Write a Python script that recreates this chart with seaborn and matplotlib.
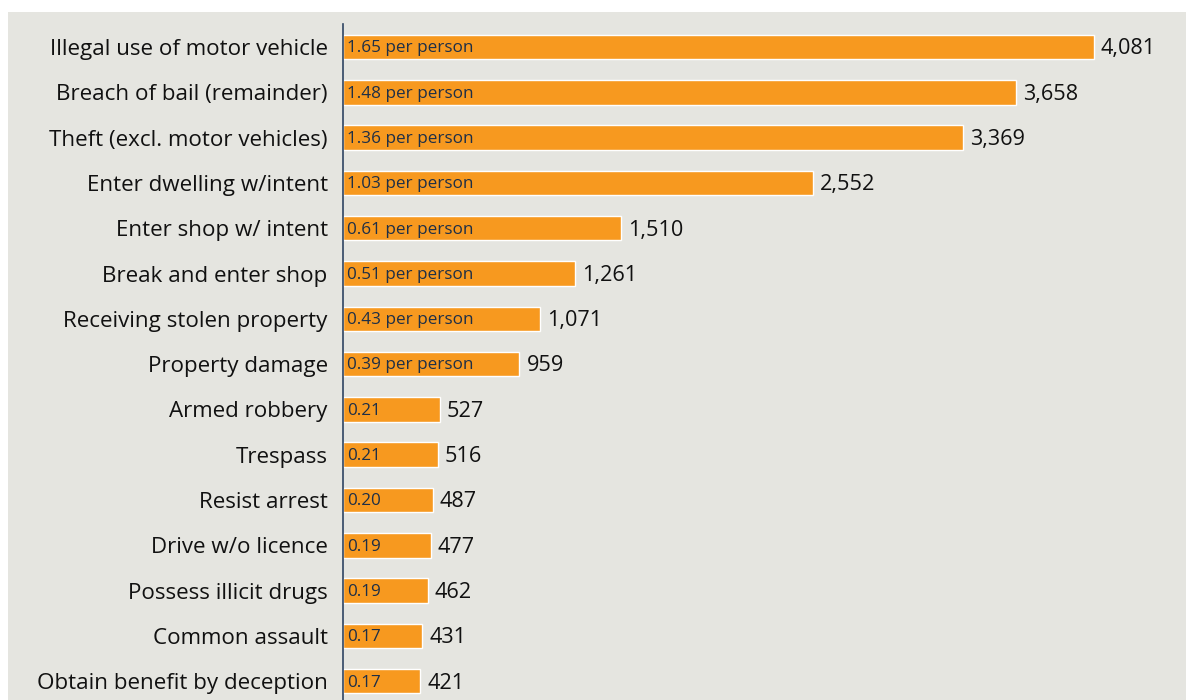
import matplotlib
matplotlib.use("Agg")
import matplotlib.pyplot as plt
import seaborn as sns
import pandas as pd
from matplotlib.patches import Rectangle

# Offence counts and rate per person
offences = [
    "Illegal use of motor vehicle",
    "Breach of bail (remainder)",
    "Theft (excl. motor vehicles)",
    "Enter dwelling w/intent",
    "Enter shop w/ intent",
    "Break and enter shop",
    "Receiving stolen property",
    "Property damage",
    "Armed robbery",
    "Trespass",
    "Resist arrest",
    "Drive w/o licence",
    "Possess illicit drugs",
    "Common assault",
    "Obtain benefit by deception",
]
counts = [4081, 3658, 3369, 2552, 1510, 1261, 1071, 959, 527, 516, 487, 477, 462, 431, 421]
per_person = [1.65, 1.48, 1.36, 1.03, 0.61, 0.51, 0.43, 0.39, 0.21, 0.21, 0.20, 0.19, 0.19, 0.17, 0.17]
long_label_rows = 8  # rows whose inner label carries "per person"

df = pd.DataFrame({"offence": offences, "count": counts, "rate": per_person})

BG = "#e5e5e0"
BAR = "#f7991f"
NAVY = "#1e2f47"

sns.set_theme(style="white")
plt.rcParams["font.family"] = ["Open Sans", "DejaVu Sans"]

W, H = 1186, 700
fig = plt.figure(figsize=(W / 100, H / 100), dpi=100)
fig.patch.set_facecolor("white")

# grey panel behind the chart
fig.patches.append(Rectangle((8 / W, 0), (W - 8) / W, (H - 12) / H,
                             transform=fig.transFigure, facecolor=BG,
                             edgecolor="none", zorder=-10))

left, right = 343 / W, 1180 / W
ax = fig.add_axes([left, 0, right - left, 1 - 24 / H])
ax.set_facecolor("none")

sns.barplot(data=df, y="offence", x="count", orient="h", color=BAR,
            saturation=1, width=0.54, edgecolor="white", linewidth=1.0, ax=ax)

scale = 751 / 4081
ax.set_xlim(0, (1180 - 343) / scale)
ax.set_ylim(14.415, -0.508)

for i, (c, r) in enumerate(zip(counts, per_person)):
    inner = f"{r:.2f} per person" if i < long_label_rows else f"{r:.2f}"
    ax.text(20, i + 0.03, inner, va="center", ha="left", fontsize=12.3, color=NAVY)
    ax.annotate(f"{c:,}", xy=(c, i + 0.04), xytext=(5, 0), textcoords="offset points",
                va="center", ha="left", fontsize=15.6, color="#111111")

ax.set_xlabel("")
ax.set_ylabel("")
ax.set_xticks([])
ax.tick_params(axis="y", length=0, pad=11, labelsize=16.1, labelcolor="#111111")
for s in ["top", "right", "bottom"]:
    ax.spines[s].set_visible(False)
ax.spines["left"].set_color("#2f4563")
ax.spines["left"].set_linewidth(1.2)

fig.savefig("out.png", dpi=100)
